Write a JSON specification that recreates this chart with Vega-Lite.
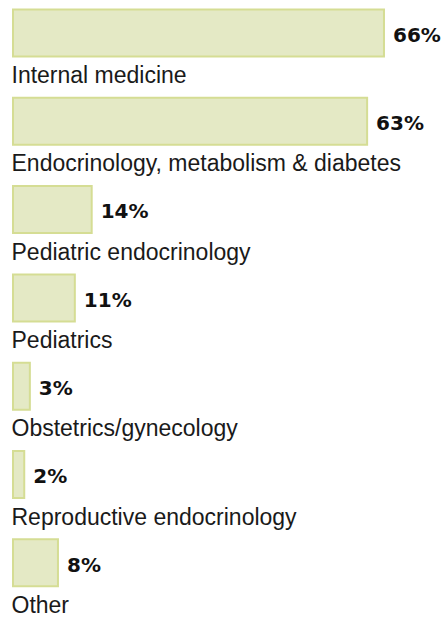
{
  "$schema": "https://vega.github.io/schema/vega-lite/v6.json",
  "width": 430,
  "height": 618,
  "padding": {"left": 13, "top": 0, "right": 0, "bottom": 0},
  "autosize": {"type": "none"},
  "background": "white",
  "config": {"view": {"stroke": null}},
  "data": {
    "values": [
      {"specialty": "Internal medicine", "share": 0.66},
      {"specialty": "Endocrinology, metabolism & diabetes", "share": 0.63},
      {"specialty": "Pediatric endocrinology", "share": 0.14},
      {"specialty": "Pediatrics", "share": 0.11},
      {"specialty": "Obstetrics/gynecology", "share": 0.03},
      {"specialty": "Reproductive endocrinology", "share": 0.02},
      {"specialty": "Other", "share": 0.08}
    ]
  },
  "encoding": {
    "y": {
      "field": "specialty",
      "type": "nominal",
      "sort": null,
      "axis": null,
      "scale": {"paddingInner": 0, "paddingOuter": 0}
    }
  },
  "layer": [
    {
      "mark": {
        "type": "bar",
        "height": 47,
        "yOffset": -11.1,
        "fill": "#e4e9c5",
        "stroke": "#d5dd94",
        "strokeWidth": 2
      },
      "encoding": {
        "x": {"field": "share", "type": "quantitative", "axis": null, "scale": {"domain": [0, 0.765], "nice": false, "zero": true}}
      }
    },
    {
      "mark": {
        "type": "text",
        "align": "left",
        "baseline": "alphabetic",
        "dx": 9,
        "dy": -2.3,
        "font": "DejaVu Sans",
        "fontWeight": "bold",
        "fontSize": 20,
        "color": "#111111"
      },
      "encoding": {
        "x": {"field": "share", "type": "quantitative"},
        "text": {"field": "share", "type": "quantitative", "format": ".0%"}
      }
    },
    {
      "mark": {
        "type": "text",
        "align": "left",
        "baseline": "alphabetic",
        "dx": -1.5,
        "dy": 39,
        "font": "Liberation Sans",
        "fontSize": 23,
        "color": "#1a1a1a"
      },
      "encoding": {
        "x": {"datum": 0, "type": "quantitative"},
        "text": {"field": "specialty"}
      }
    }
  ]
}
